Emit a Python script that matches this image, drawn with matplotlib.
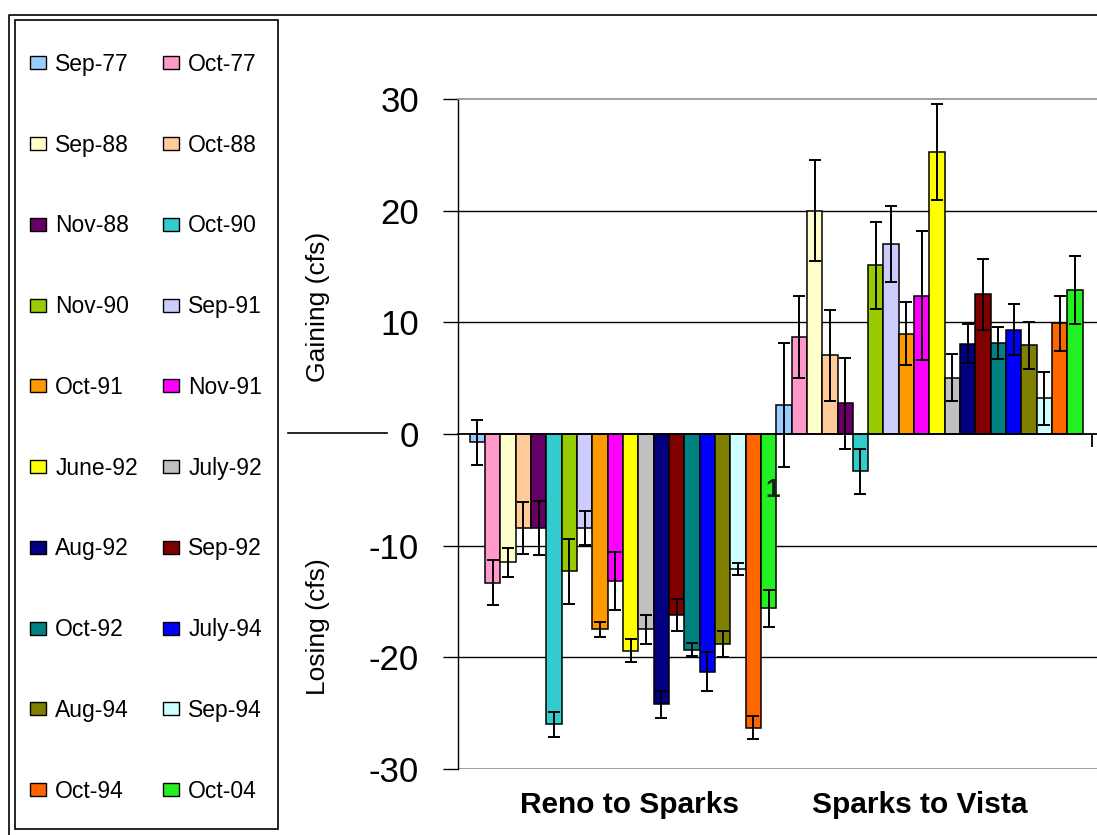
import matplotlib.pyplot as plt
import numpy as np
from matplotlib.lines import Line2D
from matplotlib.patches import Patch, Rectangle

plt.rcParams["font.family"] = ["Liberation Sans", "DejaVu Sans"]
plt.rcParams["axes.unicode_minus"] = False

reaches = ["Reno to Sparks", "Sparks to Vista"]
surveys = [
    "Sep-77", "Oct-77", "Sep-88", "Oct-88", "Nov-88", "Oct-90", "Nov-90",
    "Sep-91", "Oct-91", "Nov-91", "June-92", "July-92", "Aug-92", "Sep-92",
    "Oct-92", "July-94", "Aug-94", "Sep-94", "Oct-94", "Oct-04",
]
colors = [
    "#99CCFF", "#FF99CC", "#FFFFCC", "#FFCC99", "#660066", "#33CCCC", "#99CC00",
    "#CCCCFF", "#FF9900", "#FF00FF", "#FFFF00", "#C0C0C0", "#000080", "#800000",
    "#008080", "#0000FF", "#808000", "#CCFFFF", "#FF6600", "#22F022",
]

# gain (+) / loss (-) per survey, cfs
reno_sparks = [
    -0.75, -13.3, -11.5, -8.4, -8.4, -26.0, -12.3, -8.4, -17.5, -13.2,
    -19.4, -17.5, -24.2, -16.2, -19.3, -21.3, -18.8, -12.1, -26.3, -15.6,
]
sparks_vista = [
    2.6, 8.7, 20.0, 7.05, 2.75, -3.35, 15.1, 17.0, 9.0, 12.4,
    25.25, 5.05, 8.1, 12.5, 8.15, 9.35, 7.95, 3.2, 9.9, 12.9,
]
reno_sparks_err = [
    2.0, 2.05, 1.3, 2.35, 2.4, 1.1, 2.9, 1.5, 0.7, 2.6,
    1.05, 1.3, 1.2, 1.4, 0.55, 1.75, 1.15, 0.55, 1.05, 1.65,
]
sparks_vista_err = [
    5.55, 3.7, 4.5, 4.05, 4.1, 2.05, 3.9, 3.4, 2.8, 5.8,
    4.3, 2.1, 1.75, 3.2, 1.4, 2.25, 2.1, 2.35, 2.5, 3.05,
]

W, H = 1097, 835
fig = plt.figure(figsize=(W / 100, H / 100), dpi=100)
ax = fig.add_axes([458 / W, 1 - 769 / H, 1 - 458 / W, (769 - 99) / H])

x = np.arange(len(reaches))
bar_w = 0.05
n = len(surveys)
for i, (name, col) in enumerate(zip(surveys, colors)):
    vals = [reno_sparks[i], sparks_vista[i]]
    errs = [reno_sparks_err[i], sparks_vista_err[i]]
    ax.bar(
        x + (i - (n - 1) / 2) * bar_w, vals, bar_w,
        yerr=errs, color=col, edgecolor="black", linewidth=1.1,
        capsize=4, error_kw=dict(ecolor="black", elinewidth=1.4, capthick=1.4),
        label=name, zorder=2,
    )

# horizontal grid
for yv in (-20, -10, 10, 20):
    ax.axhline(yv, color="black", linewidth=1.0, zorder=0.5)
ax.axhline(-30, color="#909090", linewidth=1.2, zorder=0.5)

ax.set_ylim(-30, 30)
ax.set_xlim(-0.538, 1.5465)
ax.set_yticks(np.arange(-30, 31, 10))
ax.tick_params(axis="y", direction="out", length=11, width=1.0, pad=17,
               labelsize=25, colors="black")

# category axis along zero
ax.spines["bottom"].set_position(("data", 0))
ax.spines["bottom"].set_linewidth(1.3)
ax.spines["left"].set_linewidth(1.0)
ax.spines["top"].set_color("#909090")
ax.spines["top"].set_linewidth(1.2)
ax.spines["right"].set_visible(False)
ax.set_xticks([1.530])
ax.set_xticklabels([])
ax.tick_params(axis="x", direction="out", length=9, width=1.3)

for xi, name in zip(x, reaches):
    ax.annotate(name, xy=(xi, 0), xycoords=("data", "axes fraction"),
                xytext=(5 if xi == 0 else -7, -16), textcoords="offset points",
                ha="center", va="top", fontsize=21.5, fontweight="bold")

ax.text(0.49, -5.0, "1", fontsize=19, fontweight="bold", color="#102810",
        ha="center", va="center", zorder=5)

fig.text(318 / W, 1 - 307 / H, "Gaining (cfs)", rotation=90, fontsize=19,
         ha="center", va="center")
fig.text(318 / W, 1 - 627 / H, "Losing (cfs)", rotation=90, fontsize=19,
         ha="center", va="center")
fig.add_artist(Line2D([288 / W, 387 / W], [1 - 433 / H, 1 - 433 / H],
                      color="black", linewidth=1.2))

# outer chart border and legend box
fig.add_artist(Line2D([9 / W, 9 / W, 1.0], [0.0, 1 - 15 / H, 1 - 15 / H],
                      color="black", linewidth=1.2))
fig.add_artist(Rectangle((15 / W, 1 - 829 / H), (278 - 15) / W, (829 - 20) / H,
                         transform=fig.transFigure, fill=False,
                         edgecolor="black", linewidth=1.2))

# legend filled row by row
handles = [Patch(facecolor=c, edgecolor="black", linewidth=1.0) for c in colors]
order = list(range(0, n, 2)) + list(range(1, n, 2))
fig.legend([handles[k] for k in order], [surveys[k] for k in order],
           ncol=2, loc="upper left", bbox_to_anchor=(30 / W, 1 - 53 / H),
           frameon=False, fontsize=16.5, borderpad=0, borderaxespad=0,
           handlelength=0.7, handleheight=0.5, handletextpad=0.4,
           columnspacing=1.1, labelspacing=2.52)

fig.savefig("out.png", dpi=100)
